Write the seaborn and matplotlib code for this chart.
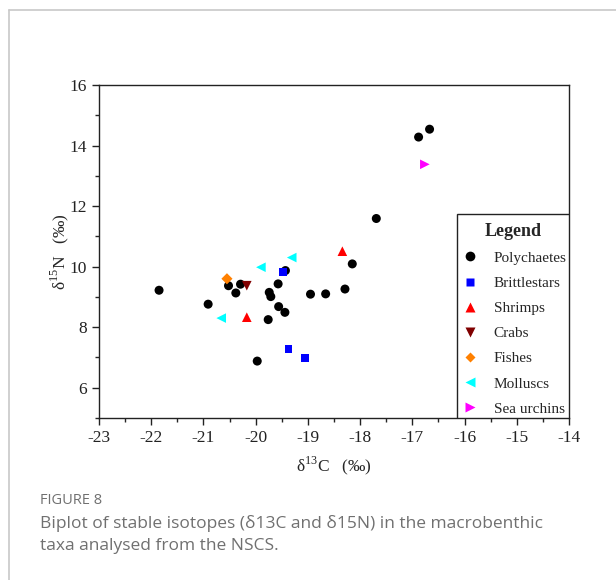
import pandas as pd
import seaborn as sns
import matplotlib.pyplot as plt
from matplotlib.lines import Line2D
from matplotlib.patches import Rectangle

# Datos
poly_c = [-21.85, -20.91, -20.52, -20.38, -20.29, -19.74, -19.71, -19.57, -19.43, -19.56,
          -19.44, -19.76, -19.97, -18.95, -18.66, -18.29, -18.15, -17.69, -16.88, -16.67]
poly_n = [9.22, 8.76, 9.37, 9.13, 9.42, 9.15, 9.01, 9.43, 9.87, 8.68,
          8.49, 8.25, 6.88, 9.09, 9.10, 9.26, 10.09, 11.59, 14.28, 14.54]
brit_c = [-19.47, -19.37, -19.05]
brit_n = [9.83, 7.27, 6.99]
shrimp_c = [-20.17, -18.34]
shrimp_n = [8.33, 10.51]
crab_c = [-20.17]
crab_n = [9.37]
fish_c = [-20.55]
fish_n = [9.60]
moll_c = [-20.66, -19.90, -19.31]
moll_n = [8.30, 9.98, 10.30]
urchin_c = [-16.76]
urchin_n = [13.38]

grupos = ['Polychaetes', 'Brittlestars', 'Shrimps', 'Crabs', 'Fishes', 'Molluscs', 'Sea urchins']
colores = ['#000000', '#0000FF', '#FF0000', '#800000', '#FF8000', '#00FFFF', '#FF00FF']
marcadores = ['o', 's', '^', 'v', 'D', '<', '>']
tamanos = [42, 32, 48, 48, 32, 48, 48]

datos_c = [poly_c, brit_c, shrimp_c, crab_c, fish_c, moll_c, urchin_c]
datos_n = [poly_n, brit_n, shrimp_n, crab_n, fish_n, moll_n, urchin_n]

filas = []
for g, cs, ns in zip(grupos, datos_c, datos_n):
    for c, n in zip(cs, ns):
        filas.append({'C': c, 'N': n, 'Grupo': g})
df = pd.DataFrame(filas)

sns.set_style('ticks')
plt.rcParams['font.family'] = ['Liberation Serif', 'DejaVu Serif']
plt.rcParams['mathtext.fontset'] = 'custom'
plt.rcParams['mathtext.rm'] = 'Liberation Serif'
plt.rcParams['axes.unicode_minus'] = False

fig = plt.figure(figsize=(6.16, 5.8), dpi=100)
ax = fig.add_axes([99 / 616, 1 - 418 / 580, 470 / 616, 333 / 580])

for g, col, m, s in zip(grupos, colores, marcadores, tamanos):
    sub = df[df['Grupo'] == g]
    sns.scatterplot(data=sub, x='C', y='N', color=col, marker=m, s=s,
                    edgecolor='none', ax=ax, label=g, legend=False)

ax.set_xlim(-23, -14)
ax.set_ylim(5, 16)
ax.set_xticks(range(-23, -13))
ax.set_xticks([x + 0.5 for x in range(-23, -14)], minor=True)
ax.set_yticks([6, 8, 10, 12, 14, 16])
ax.set_yticks([5, 7, 9, 11, 13, 15], minor=True)
ax.tick_params(which='major', direction='out', length=5, width=1, labelsize=12.5, colors='#222222')
ax.tick_params(which='minor', direction='out', length=3, width=1)
for sp in ax.spines.values():
    sp.set_linewidth(1)
    sp.set_color('#222222')

ax.set_xlabel('δ$^{13}$C   (‰)', fontsize=12.5, labelpad=6)
ax.set_ylabel('δ$^{15}$N   (‰)', fontsize=12.5, labelpad=-1)

# Leyenda con marco propio
ax.add_patch(Rectangle(((457 - 99) / 470, 0), (569 - 457) / 470, (418 - 214) / 333,
                       transform=ax.transAxes, facecolor='white', edgecolor='#222222',
                       lw=1, zorder=4))
handles = [Line2D([0], [0], marker=m, color='none', markerfacecolor=c, markeredgecolor='none',
                  markersize=7 if m in 'o^v<>' else 5.5)
           for c, m in zip(colores, marcadores)]
leg = ax.legend(handles, grupos, title='Legend', loc='lower right', bbox_to_anchor=(1, 0),
                borderaxespad=0, frameon=False,
                fontsize=11, handlelength=1.4, handletextpad=0.87, labelspacing=0.75,
                borderpad=0.15)
leg.set_zorder(5)
leg.get_title().set_fontweight('bold')
leg.get_title().set_fontsize(13)

# Marco del panel
fig.add_artist(Line2D([9 / 616, 9 / 616], [0, 1 - 10 / 580], color='#c8c8c8', lw=1.2))
fig.add_artist(Line2D([9 / 616, 1], [1 - 10 / 580, 1 - 10 / 580], color='#c8c8c8', lw=1.2))

# Pie de figura
fig.text(40 / 616, 1 - 500 / 580, 'FIGURE 8', fontsize=10.5, color='#707070',
         family='Open Sans', va='center')
fig.text(40 / 616, 1 - 523 / 580, 'Biplot of stable isotopes (δ13C and δ15N) in the macrobenthic',
         fontsize=12.5, color='#707070', family='Open Sans', va='center')
fig.text(40 / 616, 1 - 546 / 580, 'taxa analysed from the NSCS.',
         fontsize=12.5, color='#707070', family='Open Sans', va='center')

plt.savefig('out.png', dpi=100)
